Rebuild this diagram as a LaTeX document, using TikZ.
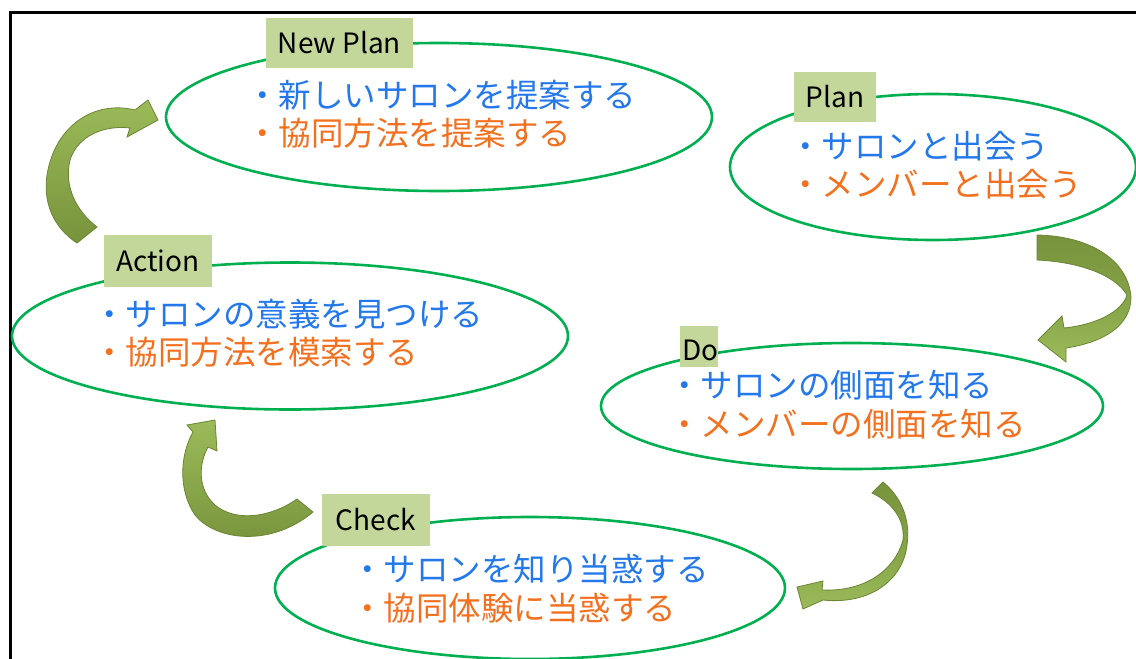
\documentclass[tikz,border=0pt]{standalone}
\usepackage{fontspec}
\setmainfont{Noto Sans CJK JP}
\usetikzlibrary{shapes.geometric}
\definecolor{ringgreen}{HTML}{00B050}
\definecolor{tagfill}{HTML}{C4D79B}
\definecolor{txtblue}{RGB}{35,120,235}
\definecolor{txtorange}{RGB}{242,112,30}
\definecolor{arrdark}{HTML}{77933C}
\definecolor{arrlight}{HTML}{9BBB59}
\definecolor{arredge}{HTML}{6B8535}
\begin{document}
\begin{tikzpicture}[x=1pt,y=-1pt,
  ring/.style={draw=ringgreen, line width=2.6pt, ellipse, inner sep=0pt},
  tag/.style={fill=tagfill, inner sep=0pt, font=\fontsize{28}{32}\selectfont, text=black},
  body/.style={align=left, inner sep=0pt, anchor=west, font=\fontsize{32.5}{38.5}\selectfont},
  bigarrow/.style={draw=arredge, line width=0.8pt}]
\useasboundingbox (0,0) rectangle (1136,659);
\fill[white] (0,0) rectangle (1136,659);
\draw[line width=3pt] (10,665) -- (10,12) -- (1140,12);

% ellipses
\node[ring, minimum width=546pt, minimum height=148pt] (enew) at (439,117) {};
\node[ring, minimum width=406pt, minimum height=146pt] (eplan) at (933,167) {};
\node[ring, minimum width=556pt, minimum height=147pt] (eact) at (290,336) {};
\node[ring, minimum width=502pt, minimum height=126pt] (edo) at (852,406) {};
\node[ring, minimum width=510pt, minimum height=142pt] (echk) at (530,588) {};

% labels
\node[tag, minimum width=147pt, minimum height=50pt] (lnew) at (339.5,43) {New Plan};
\node[tag, minimum width=82pt, minimum height=50pt] (lplan) at (835,97) {Plan};
\node[tag, minimum width=108pt, minimum height=52pt] (lact) at (158,261) {Action};
\node[tag, minimum width=38pt, minimum height=41pt] (ldo) at (699,346.5) {};
\node[font=\fontsize{28}{32}\selectfont, anchor=base west, inner sep=0pt] (ldotext) at (682,360) {Do};
\node[tag, minimum width=108pt, minimum height=52pt] (lchk) at (376,520) {Check};

% body texts
\node[body] (tnew) at (246,114) {\textcolor{txtblue}{・新しいサロンを提案する}\\\textcolor{txtorange}{・協同方法を提案する}};
\node[body] (tplan) at (789,165) {\textcolor{txtblue}{・サロンと出会う}\\\textcolor{txtorange}{・メンバーと出会う}};
\node[body] (tact) at (93,333) {\textcolor{txtblue}{・サロンの意義を見つける}\\\textcolor{txtorange}{・協同方法を模索する}};
\node[body] (tdo) at (668,404.5) {\textcolor{txtblue}{・サロンの側面を知る}\\\textcolor{txtorange}{・メンバーの側面を知る}};
\node[body] (tchk) at (351,588.5) {\textcolor{txtblue}{・サロンを知り当惑する}\\\textcolor{txtorange}{・協同体験に当惑する}};

% curved arrows
% Action -> New Plan
\shadedraw[bigarrow, top color=arrlight, bottom color=arrdark]
  (97,227) .. controls (75,210) and (64,185) .. (70,160)
  .. controls (78,135) and (105,125) .. (130,128)
  -- (127,137) -- (158,120) -- (148,100) -- (135,110)
  .. controls (95,100) and (55,125) .. (47,175)
  .. controls (42,210) and (60,232) .. (77,243) -- cycle;
% Plan -> Do
\shadedraw[bigarrow, top color=arrdark, bottom color=arrlight, middle color=arrdark!60!arrlight]
  (1037,235) .. controls (1090,236) and (1128,260) .. (1131,297)
  .. controls (1131,325) and (1105,342) .. (1066,348)
  -- (1066,362) -- (1038,340) -- (1062,316) -- (1064,328)
  .. controls (1095,325) and (1122,312) .. (1127,295)
  .. controls (1115,275) and (1080,262) .. (1037,260) -- cycle;
% Do -> Check
\shadedraw[bigarrow, top color=arrdark, bottom color=arrlight, middle color=arrdark!60!arrlight]
  (883,482) .. controls (905,500) and (910,525) .. (907,545)
  .. controls (903,580) and (870,605) .. (823,600)
  -- (803,609) -- (797,587) -- (823,581) -- (822,590)
  .. controls (865,592) and (895,570) .. (903,540)
  .. controls (905,520) and (893,503) .. (872,493) -- cycle;
% Check -> Action
\shadedraw[bigarrow, top color=arrlight, bottom color=arrdark]
  (297,499) .. controls (270,518) and (235,522) .. (215,505)
  .. controls (198,490) and (198,465) .. (208,447)
  -- (217,451) -- (215,420) -- (187,425) -- (193,432)
  .. controls (180,455) and (178,490) .. (195,515)
  .. controls (215,540) and (270,548) .. (313,512) -- cycle;
\end{tikzpicture}
\end{document}
